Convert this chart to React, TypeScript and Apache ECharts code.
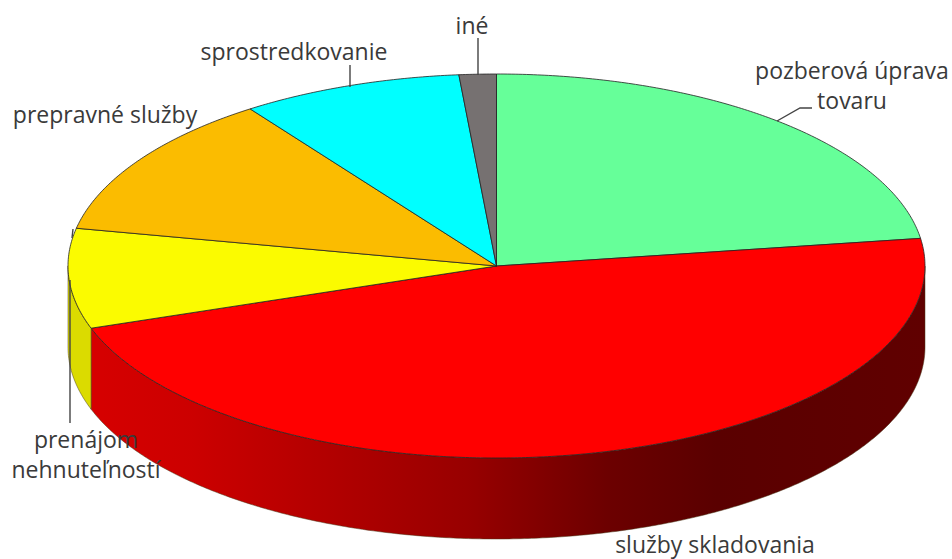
import React, { useEffect, useRef } from "react";
import * as echarts from "echarts";

const categories = ["pozberová úprava\ntovaru", "služby skladovania", "prenájom\nnehnuteľností", "prepravné služby", "sprostredkovanie", "iné"];
const shares = [22.7, 47.05, 8.4, 12.1, 8.35, 1.4];
const topColors = ["#66ff99", "#ff0000", "#fbfb00", "#fbbc00", "#00ffff", "#767171"];

const CX = 496.5, CY = 266, RX = 428.5, RY = 192, DEPTH = 81;
const FONT = "'Open Sans'";
const TEXT = "#3a3a3a";

const total = shares.reduce((a, b) => a + b, 0);
const pt = (deg: number, dy = 0): number[] => {
  const r = (deg * Math.PI) / 180;
  return [CX + RX * Math.sin(r), CY - RY * Math.cos(r) + dy];
};
const arc = (a: number, b: number, dy = 0): number[][] => {
  const out: number[][] = [];
  const n = Math.max(2, Math.ceil(Math.abs(b - a) * 2));
  for (let i = 0; i <= n; i++) out.push(pt(a + ((b - a) * i) / n, dy));
  return out;
};

const wallFill = (index: number) =>
  index === 1
    ? {
        type: "linear", x: 92, y: 0, x2: 925, y2: 0, global: true,
        colorStops: [
          { offset: 0, color: "#d60000" },
          { offset: 0.12, color: "#cc0000" },
          { offset: 0.45, color: "#980000" },
          { offset: 0.62, color: "#6c0000" },
          { offset: 0.75, color: "#5a0000" },
          { offset: 1, color: "#600000" },
        ],
      }
    : "#dbdb00";

const renderSlice = (params: any, api: any) => {
  const i = params.dataIndex;
  let before = 0;
  for (let k = 0; k < i; k++) before += shares[k];
  const a0 = (before / total) * 360;
  const a1 = a0 + (api.value(0) / total) * 360;
  const children: any[] = [];
  const w0 = Math.max(a0, 90), w1 = Math.min(a1, 270);
  if (w1 > w0) {
    children.push({
      type: "polygon",
      shape: { points: [...arc(w0, w1), ...arc(w1, w0, DEPTH)] },
      style: { fill: wallFill(i), stroke: "#4a3a1a", lineWidth: 0.5 },
    });
  }
  children.push({
    type: "polygon",
    shape: { points: [[CX, CY], ...arc(a0, a1)] },
    style: { fill: topColors[i], stroke: "#222", lineWidth: 0.8, lineJoin: "round" },
  });
  return { type: "group", children };
};

const label = (text: string, x: number, y: number, size = 23, lineHeight = 30) => ({
  type: "text", x, y, z: 20,
  style: { text, fill: TEXT, font: `${size}px ${FONT}`, textAlign: "center", textVerticalAlign: "middle", lineHeight },
});
const leader = (points: number[][]) => ({
  type: "polyline", z: 19,
  shape: { points },
  style: { stroke: "#444", lineWidth: 1.4, fill: "none" },
});

export default function App() {
  const ref = useRef<HTMLDivElement>(null);
  useEffect(() => {
    const chart = echarts.init(ref.current!, null, { renderer: "svg" });
    chart.setOption({
      animation: false,
      backgroundColor: "#ffffff",
      series: [
        {
          type: "custom",
          coordinateSystem: "none",
          silent: true,
          renderItem: renderSlice,
          data: shares.map((v, i) => ({ name: categories[i], value: [v] })),
        },
      ],
      graphic: [
        label(categories[0], 852, 85),
        label(categories[1], 715, 544, 23, 24),
        label(categories[2], 86, 454),
        label(categories[3], 105, 114),
        label(categories[4], 294, 51),
        label(categories[5], 472, 25),
        leader([[777, 121], [800, 108], [812, 108]]),
        leader([[350, 65], [350, 87]]),
        leader([[478, 38], [478, 75]]),
        leader([[70, 280], [70, 423]]),
        leader([[73, 229], [72, 238]]),
      ],
    });
    return () => chart.dispose();
  }, []);
  return <div ref={ref} style={{ position: "absolute", left: 0, top: 0, width: 952, height: 559 }} />;
}
